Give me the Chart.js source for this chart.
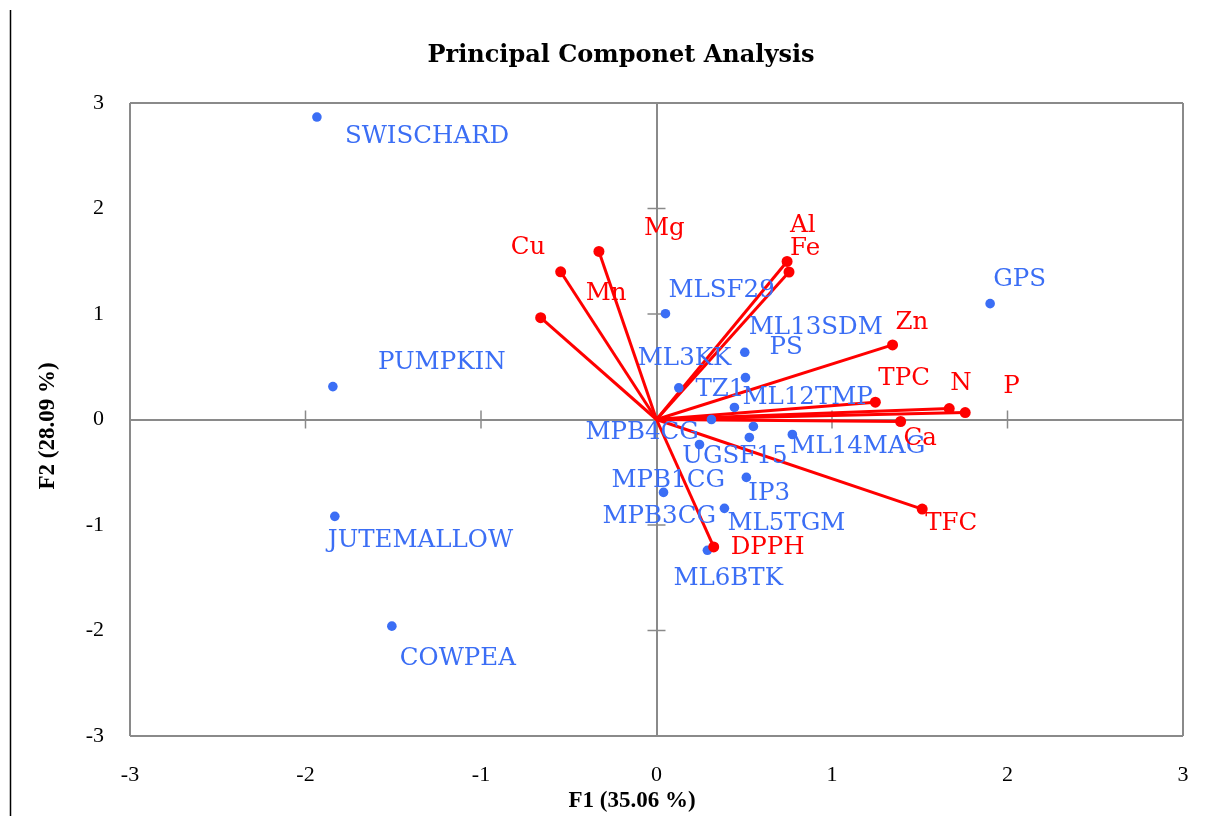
<!DOCTYPE html>
<html><head><meta charset="utf-8">
<script src="https://cdn.jsdelivr.net/npm/chart.js@4.4.1/dist/chart.umd.min.js"></script>
<style>html,body{margin:0;padding:0;background:#fff;}#wrap{width:1229px;height:816px;position:relative;}</style>
</head><body><div id="wrap"><canvas id="c" width="1229" height="816"></canvas></div>
<script>
// ---- data ----
const obsNames = ['SWISCHARD','GPS','PUMPKIN','JUTEMALLOW','COWPEA','MLSF29','ML13SDM','PS','ML3KK','TZ1','ML12TMP','MPB4CG','UGSF15','ML14MAG','MPB1CG','IP3','MPB3CG','ML5TGM','ML6BTK'];
const obsF1 = [-1.935, 1.901, -1.844, -1.833, -1.508, 0.051, 0.503, 0.507, 0.127, 0.444, 0.552, 0.313, 0.529, 0.774, 0.245, 0.512, 0.040, 0.387, 0.290];
const obsF2 = [2.867, 1.098, 0.312, -0.918, -1.959, 1.003, 0.637, 0.397, 0.300, 0.114, -0.066, 0.000, -0.170, -0.142, -0.237, -0.549, -0.691, -0.842, -1.240];
const varNames = ['Cu','Mg','Mn','Al','Fe','Zn','TPC','N','P','Ca','TFC','DPPH'];
const varF1 = [-0.546, -0.328, -0.660, 0.744, 0.755, 1.345, 1.247, 1.668, 1.759, 1.391, 1.514, 0.326];
const varF2 = [1.400, 1.593, 0.965, 1.498, 1.398, 0.707, 0.164, 0.104, 0.066, -0.019, -0.849, -1.208];
const axisMin = -3, axisMax = 3, axisStep = 1;
const titleText = 'Principal Componet Analysis';
const xTitleText = 'F1 (35.06 %)';
const yTitleText = 'F2 (28.09 %)';

// ---- label placement (pixel offsets from the mark) ----
const obsLabelOffset = [[28,20],[3,-24],[45,-24],[-7,24],[8,32],[3,-23],[4,-25],[24,-30],[-41,-29],[-39,-18],[-11,-29],[-126,13],[-67,19],[-2,12],[-88,36],[2,16],[-61,24],[3,15],[-34,28]];
const varLabelOffset = [[-50,-24],[45,-23],[45,-24],[3,-36],[1,-23],[3,-22],[3,-24],[1,-25],[38,-26],[3,17],[3,15],[17,1]];

const BLUE = '#3B6EF5', RED = '#FF0000', GRAY = '#8a8a8a';
const LABEL_FONT = '24.5px "DejaVu Serif"';

const decor = {
  id: 'decor',
  beforeDatasetsDraw(chart) {
    const {ctx, scales: {x, y}} = chart;
    const x0 = x.getPixelForValue(0), y0 = y.getPixelForValue(0);
    ctx.save();
    ctx.strokeStyle = GRAY; ctx.lineWidth = 1.5;
    for (let v = axisMin + axisStep; v < axisMax; v += axisStep) {
      if (v === 0) continue;
      const py = y.getPixelForValue(v), px = x.getPixelForValue(v);
      ctx.beginPath(); ctx.moveTo(x0 - 9, py); ctx.lineTo(x0 + 9, py); ctx.stroke();
      ctx.beginPath(); ctx.moveTo(px, y0 - 9); ctx.lineTo(px, y0 + 9); ctx.stroke();
    }
    ctx.restore();
  },
  afterDraw(chart) {
    const {ctx, scales: {x, y}} = chart;
    ctx.save();
    ctx.textBaseline = 'middle'; ctx.textAlign = 'left';
    ctx.font = LABEL_FONT;
    ctx.fillStyle = BLUE;
    obsNames.forEach((n, i) => {
      const px = x.getPixelForValue(obsF1[i]), py = y.getPixelForValue(obsF2[i]);
      ctx.fillText(n, px + obsLabelOffset[i][0], py + obsLabelOffset[i][1]);
    });
    ctx.fillStyle = RED;
    varNames.forEach((n, i) => {
      const px = x.getPixelForValue(varF1[i]), py = y.getPixelForValue(varF2[i]);
      ctx.fillText(n, px + varLabelOffset[i][0], py + varLabelOffset[i][1]);
    });
    // title
    ctx.fillStyle = '#000'; ctx.textAlign = 'center';
    ctx.font = 'bold 24px "DejaVu Serif"';
    ctx.fillText(titleText, 621, 56);
    // axis titles
    ctx.font = 'bold 23px "Liberation Serif"';
    ctx.fillText(xTitleText, 632, 801);
    ctx.save();
    ctx.translate(48, 426); ctx.rotate(-Math.PI / 2);
    ctx.fillText(yTitleText, 0, 0);
    ctx.restore();
    // page rule at left
    ctx.strokeStyle = '#000'; ctx.lineWidth = 1.5;
    ctx.beginPath(); ctx.moveTo(10.5, 10); ctx.lineTo(10.5, 816); ctx.stroke();
    ctx.restore();
  }
};

const gridColor = c => (c.tick && (c.tick.value === 0 || Math.abs(c.tick.value) === 3)) ? GRAY : 'rgba(0,0,0,0)';
const tickFont = {family: '"Liberation Serif"', size: 22};

const datasets = [];
varNames.forEach((n, i) => {
  datasets.push({label: n, data: [{x: 0, y: 0}, {x: varF1[i], y: varF2[i]}], showLine: true,
    borderColor: RED, borderWidth: 3, pointRadius: 0, order: 3});
});
datasets.push({label: 'Observations', data: obsF1.map((v, i) => ({x: v, y: obsF2[i]})),
  pointRadius: 4.8, backgroundColor: BLUE, borderWidth: 0, order: 2});
datasets.push({label: 'Variables', data: varF1.map((v, i) => ({x: v, y: varF2[i]})),
  pointRadius: 5.5, backgroundColor: RED, borderWidth: 0, order: 1});

new Chart(document.getElementById('c'), {
  type: 'scatter',
  data: {datasets},
  options: {
    responsive: false, animation: false, events: [],
    layout: {padding: {top: 103, right: 46, left: 0, bottom: 0}},
    plugins: {legend: {display: false}, tooltip: {enabled: false}},
    scales: {
      x: {type: 'linear', min: axisMin, max: axisMax,
        ticks: {stepSize: axisStep, padding: 26, font: tickFont, color: '#000', callback: v => String(v)},
        grid: {color: gridColor, lineWidth: 2, drawTicks: false},
        border: {display: false},
        afterFit: s => { s.height = 80; }
      },
      y: {type: 'linear', min: axisMin, max: axisMax,
        ticks: {stepSize: axisStep, padding: 26, font: tickFont, color: '#000', callback: v => String(v)},
        grid: {color: gridColor, lineWidth: 2, drawTicks: false},
        border: {display: false},
        afterFit: s => { s.width = 130; }
      }
    }
  },
  plugins: [decor]
});
</script></body></html>
